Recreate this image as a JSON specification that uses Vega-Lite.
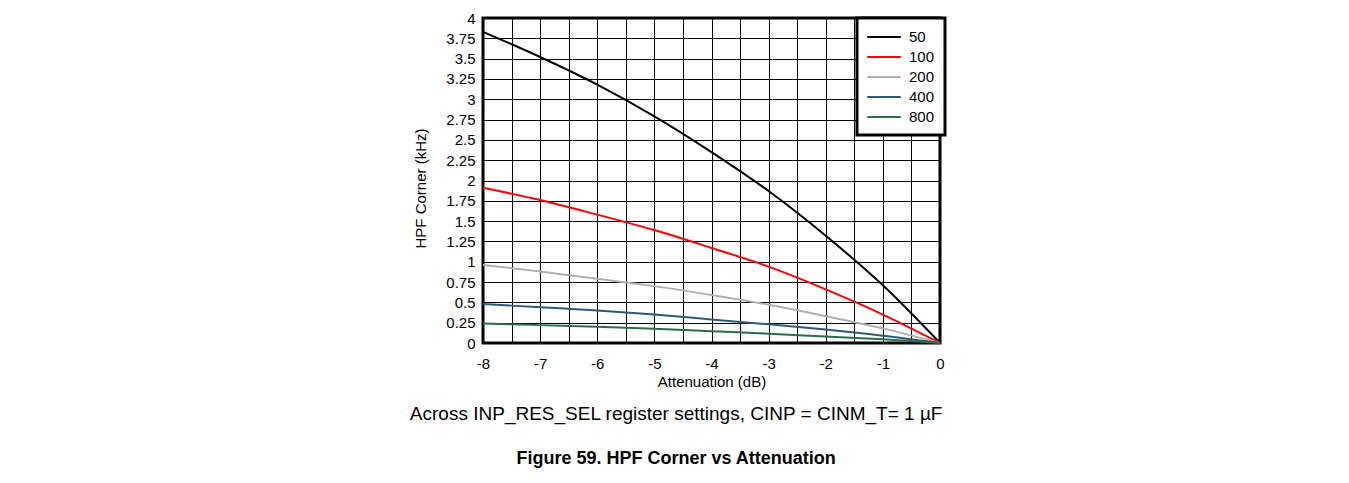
{
  "$schema": "https://vega.github.io/schema/vega-lite/v6.json",
  "width": 457,
  "height": 325,
  "autosize": {"type": "none"},
  "padding": {"left": 483, "top": 18, "right": 409, "bottom": 140},
  "background": "white",
  "title": {
    "text": "Across INP_RES_SEL register settings, CINP = CINM_T= 1 µF",
    "subtitle": "Figure 59. HPF Corner vs Attenuation",
    "orient": "bottom",
    "anchor": "middle",
    "frame": "bounds",
    "font": "Liberation Sans",
    "fontSize": 19,
    "fontWeight": "normal",
    "color": "black",
    "subtitleFont": "Liberation Sans",
    "subtitleFontSize": 18,
    "subtitleFontWeight": "bold",
    "subtitleColor": "black",
    "subtitlePadding": 26,
    "offset": 16,
    "dx": -4
  },
  "data": {
    "values": [
      {"att": -8, "hpf": 3.83, "res": "50"},
      {"att": -7, "hpf": 3.52, "res": "50"},
      {"att": -6, "hpf": 3.18, "res": "50"},
      {"att": -5, "hpf": 2.79, "res": "50"},
      {"att": -4, "hpf": 2.35, "res": "50"},
      {"att": -3, "hpf": 1.87, "res": "50"},
      {"att": -2, "hpf": 1.32, "res": "50"},
      {"att": -1, "hpf": 0.71, "res": "50"},
      {"att": 0, "hpf": 0, "res": "50"},
      {"att": -8, "hpf": 1.91, "res": "100"},
      {"att": -7, "hpf": 1.76, "res": "100"},
      {"att": -6, "hpf": 1.58, "res": "100"},
      {"att": -5, "hpf": 1.39, "res": "100"},
      {"att": -4, "hpf": 1.17, "res": "100"},
      {"att": -3, "hpf": 0.94, "res": "100"},
      {"att": -2, "hpf": 0.66, "res": "100"},
      {"att": -1, "hpf": 0.35, "res": "100"},
      {"att": 0, "hpf": 0, "res": "100"},
      {"att": -8, "hpf": 0.96, "res": "200"},
      {"att": -7, "hpf": 0.88, "res": "200"},
      {"att": -6, "hpf": 0.79, "res": "200"},
      {"att": -5, "hpf": 0.70, "res": "200"},
      {"att": -4, "hpf": 0.59, "res": "200"},
      {"att": -3, "hpf": 0.47, "res": "200"},
      {"att": -2, "hpf": 0.33, "res": "200"},
      {"att": -1, "hpf": 0.18, "res": "200"},
      {"att": 0, "hpf": 0, "res": "200"},
      {"att": -8, "hpf": 0.48, "res": "400"},
      {"att": -7, "hpf": 0.44, "res": "400"},
      {"att": -6, "hpf": 0.40, "res": "400"},
      {"att": -5, "hpf": 0.35, "res": "400"},
      {"att": -4, "hpf": 0.29, "res": "400"},
      {"att": -3, "hpf": 0.23, "res": "400"},
      {"att": -2, "hpf": 0.165, "res": "400"},
      {"att": -1, "hpf": 0.09, "res": "400"},
      {"att": 0, "hpf": 0, "res": "400"},
      {"att": -8, "hpf": 0.24, "res": "800"},
      {"att": -7, "hpf": 0.22, "res": "800"},
      {"att": -6, "hpf": 0.20, "res": "800"},
      {"att": -5, "hpf": 0.175, "res": "800"},
      {"att": -4, "hpf": 0.145, "res": "800"},
      {"att": -3, "hpf": 0.115, "res": "800"},
      {"att": -2, "hpf": 0.08, "res": "800"},
      {"att": -1, "hpf": 0.045, "res": "800"},
      {"att": 0, "hpf": 0, "res": "800"}
    ]
  },
  "mark": {"type": "line", "strokeWidth": 2, "interpolate": "monotone"},
  "encoding": {
    "x": {
      "field": "att",
      "type": "quantitative",
      "scale": {"domain": [-8, 0], "nice": false, "zero": false},
      "axis": {
        "title": "Attenuation (dB)",
        "values": [-8, -7.5, -7, -6.5, -6, -5.5, -5, -4.5, -4, -3.5, -3, -2.5, -2, -1.5, -1, -0.5, 0],
        "labelExpr": "datum.value % 1 === 0 ? toString(datum.value) : ''",
        "labelPadding": 13,
        "titlePadding": 3,
        "labelFlush": false
      }
    },
    "y": {
      "field": "hpf",
      "type": "quantitative",
      "scale": {"domain": [0, 4], "nice": false},
      "axis": {
        "title": "HPF Corner (kHz)",
        "values": [0, 0.25, 0.5, 0.75, 1, 1.25, 1.5, 1.75, 2, 2.25, 2.5, 2.75, 3, 3.25, 3.5, 3.75, 4],
        "labelExpr": "toString(datum.value)",
        "labelPadding": 8,
        "titlePadding": 17,
        "titleY": 170,
        "labelFlush": false
      }
    },
    "color": {
      "field": "res",
      "type": "nominal",
      "sort": ["50", "100", "200", "400", "800"],
      "scale": {
        "domain": ["50", "100", "200", "400", "800"],
        "range": ["#000000", "#ff0000", "#b0b0b0", "#2e5a76", "#2b6e4a"]
      },
      "legend": {
        "title": null,
        "orient": "none",
        "legendX": 374,
        "legendY": 0,
        "symbolType": "M-2.1,0L2.1,0",
        "symbolSize": 256,
        "symbolStrokeWidth": 2,
        "symbolOffset": 8,
        "labelFontSize": 15,
        "labelFont": "Liberation Sans",
        "labelColor": "black",
        "fillColor": "white",
        "strokeColor": "black",
        "padding": 10,
        "rowPadding": 3,
        "labelOffset": 16
      }
    }
  },
  "config": {
    "view": {"stroke": "black", "strokeWidth": 3},
    "legend": {"strokeWidth": 3},
    "axis": {
      "grid": true,
      "gridColor": "black",
      "gridOpacity": 1,
      "gridWidth": 1,
      "ticks": false,
      "domain": false,
      "labelFont": "Liberation Sans",
      "labelFontSize": 15,
      "labelColor": "black",
      "titleFont": "Liberation Sans",
      "titleFontSize": 15,
      "titleFontWeight": "normal",
      "titleColor": "black"
    }
  }
}
